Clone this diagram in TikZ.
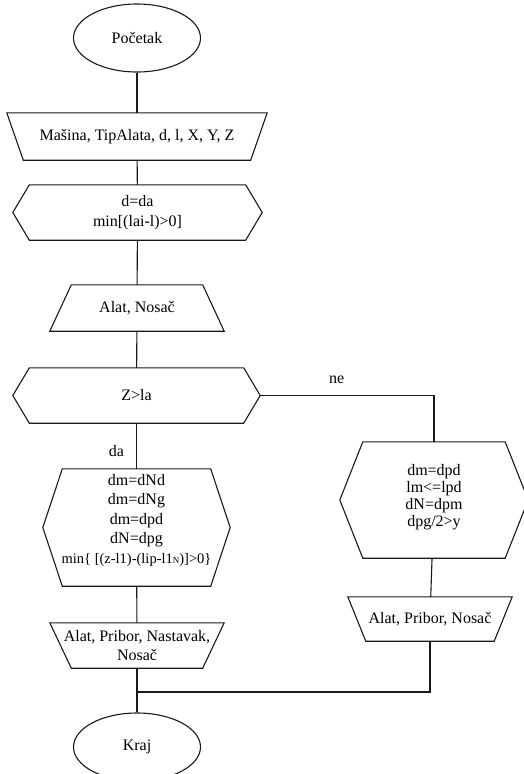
\documentclass[tikz,border=0pt]{standalone}
\usepackage{fontspec}
\setmainfont{Liberation Serif}
\usetikzlibrary{shapes.geometric}

\begin{document}
\begin{tikzpicture}[
  x=1pt, y=-1pt,
  font=\fontsize{16}{19.5}\selectfont,
  conn/.style={line width=1.1pt, draw=black!90},
  outl/.style={line width=1.1pt, draw=black!90, line join=miter},
  term/.style={ellipse, draw=black!90, line width=1.1pt, minimum width=127pt,
               minimum height=68pt, inner sep=0pt},
  hexa/.style={rectangle, inner sep=0pt, align=center,
    append after command={\pgfextra{\draw[outl]
      ([xshift=#1]\tikzlastnode.north west) -- ([xshift=-#1]\tikzlastnode.north east)
      -- (\tikzlastnode.east) -- ([xshift=-#1]\tikzlastnode.south east)
      -- ([xshift=#1]\tikzlastnode.south west) -- (\tikzlastnode.west) -- cycle;}}},
  trapbot/.style={rectangle, inner sep=0pt, align=center,
    append after command={\pgfextra{\draw[outl]
      (\tikzlastnode.north west) -- (\tikzlastnode.north east)
      -- ([xshift=-#1]\tikzlastnode.south east)
      -- ([xshift=#1]\tikzlastnode.south west) -- cycle;}}},
  traptop/.style={rectangle, inner sep=0pt, align=center,
    append after command={\pgfextra{\draw[outl]
      ([xshift=#1]\tikzlastnode.north west) -- ([xshift=-#1]\tikzlastnode.north east)
      -- (\tikzlastnode.south east) -- (\tikzlastnode.south west) -- cycle;}}},
  lbl/.style={inner sep=0pt},
]
\useasboundingbox (0,0) rectangle (524,774);
% main column
\node[term] (start) at (137,38) {Početak};
\node[trapbot=16.5pt, minimum width=260pt, minimum height=47pt] (input) at (137,136.5)
  {Mašina, TipAlata, d, l, X, Y, Z};
\node[hexa=16.5pt, minimum width=249pt, minimum height=55pt] (prep) at (137.5,212.5)
  {d=da\\min[(lai-l)>0]};
\node[traptop=21.5pt, minimum width=174pt, minimum height=46pt] (alat) at (137,308)
  {Alat, Nosač};
\node[hexa=16.5pt, minimum width=247pt, minimum height=55pt] (test) at (136.5,395.5)
  {Z>la};
% da branch
\node[hexa=19.5pt, minimum width=187pt, minimum height=117pt, text depth=18pt] (hexda) at (136.5,527.5)
  {dm=dNd\\dm=dNg\\dm=dpd\\dN=dpg\\{\fontsize{14.5}{19.5}\selectfont
   min\{ [(z-l1)-(lip-l1{\fontsize{9}{9}\selectfont N})]>0\}}};
\node[trapbot=21.5pt, minimum width=174pt, minimum height=45pt] (outda) at (137,645.5)
  {Alat, Pribor, Nastavak,\\Nosač};
% ne branch
\node[hexa=23pt, minimum width=188pt, minimum height=116pt, font=\fontsize{16}{17}\selectfont,
      text depth=10pt] (hexne) at (434,500)
  {dm=dpd\\lm<=lpd\\dN=dpm\\dpg/2>y};
\node[trapbot=18pt, minimum width=164pt, minimum height=44pt] (outne) at (430,619)
  {Alat, Pribor, Nosač};
\coordinate (join) at (137,692);
\node[term] (stop) at (137,747) {Kraj};

\draw[conn] (start) -- (input);
\draw[conn] (input) -- (prep);
\draw[conn] (prep) -- (alat);
\draw[conn] (alat) -- (test);
\draw[conn] (test) -- node[lbl, left, pos=0.6, xshift=-12pt]{da} (hexda);
\draw[conn] (test.east) -| node[above=8pt, pos=0.22]{ne} (hexne.north);
\draw[conn] (hexda) -- (outda);
\draw[conn] (hexne) -- (outne);
\draw[conn] (outda) -- (stop);
\draw[conn] (outne.south) |- (join);
\end{tikzpicture}
\end{document}
